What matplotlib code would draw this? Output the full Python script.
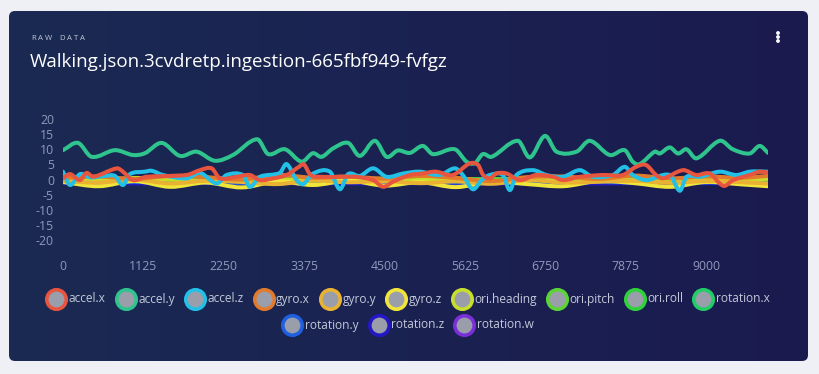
import numpy as np
import matplotlib
matplotlib.use("Agg")
import matplotlib.pyplot as plt
from matplotlib.patches import FancyBboxPatch, PathPatch
from matplotlib.path import Path

plt.rcParams['font.family'] = ['Open Sans', 'DejaVu Sans']

# ---- data ----
accel_x_t = [0, 98, 238, 330, 420, 755, 839, 979, 1166, 1731, 1917, 2080, 2196, 2430,
             2616, 2756, 2942, 3130, 3302, 3372, 3464, 3600, 3920, 4110, 4341, 4482,
             4620, 4855, 5036, 5218, 5456, 5690, 5810, 5880, 5974, 6066, 6206, 6393,
             6622, 6860, 7000, 7233, 7555, 7835, 8020, 8160, 8300, 8400, 8678, 8860,
             9052, 9192, 9262, 9378, 9611, 9751, 9867]
accel_x = [0.4, 1.8, -0.2, 2.2, 0.9, 3.7, 2.6, -0.2, 0.9, 1.5, 3.1, 3.7, 0.4, 0.9,
           1.5, -0.2, 0.4, 1.5, 4.2, 5.0, 1.5, 0.9, 0.9, 0.9, -0.2, -2.4,
           -0.7, 1.5, 2.0, 2.6, 1.5, 5.3, 4.8, 1.5, 0.4, 2.0, 2.0, -0.2,
           1.5, 0.9, -0.2, 0.9, 1.5, 1.5, 4.2, 4.8, 1.5, 0.4, 3.1, 1.5,
           2.0, -1.3, -2.1, -0.2, 1.5, 2.6, 2.3]

accel_y_t = [0, 210, 401, 727, 979, 1147, 1381, 1637, 1870, 2126, 2378, 2718, 2872,
             3106, 3339, 3497, 3619, 3781, 3991, 4155, 4365, 4529, 4687, 4855, 5036,
             5176, 5484, 5648, 5764, 5876, 5998, 6366, 6534, 6744, 6907, 7187, 7373,
             7653, 7862, 7974, 8072, 8282, 8352, 8492, 8608, 8726, 8866, 9192, 9373,
             9611, 9751, 9867]
accel_y = [9.7, 12.1, 7.5, 9.7, 8.1, 8.7, 12.1, 7.8, 9.2, 6.2, 8.1, 13.3, 8.4,
           10.0, 5.9, 8.7, 7.5, 10.3, 12.1, 7.8, 12.8, 7.5, 9.6, 8.8, 11.1,
           8.4, 10.0, 5.9, 5.4, 8.4, 7.5, 12.8, 7.3, 14.4, 9.2, 9.2, 12.8,
           8.1, 9.7, 5.9, 5.1, 9.2, 8.6, 10.6, 8.6, 10.0, 7.0, 12.8, 10.0,
           8.6, 11.1, 8.8]

accel_z_t = [0, 98, 238, 378, 588, 727, 839, 937, 1147, 1241, 1399, 1731, 1917, 2150,
             2290, 2518, 2616, 2756, 3036, 3130, 3270, 3362, 3502, 3735, 3875, 3991,
             4155, 4341, 4529, 4761, 4994, 5274, 5484, 5596, 5736, 5858, 5974, 6156,
             6254, 6347, 6575, 6767, 6995, 7233, 7415, 7695, 7862, 7974, 8166, 8492,
             8632, 8726, 8912, 9192, 9425, 9611, 9867]
accel_z = [2.6, -1.8, 1.8, 0.7, 1.2, 1.2, -1.8, 1.8, 2.6, 2.9, 1.5, 0.4, 2.2, -1.3,
           1.5, 1.5, -2.4, 0.9, 2.2, 5.1, -0.2, -1.5, 2.0, 2.6, -3.2, 1.8,
           1.2, 3.7, 0.9, 2.0, 2.6, 1.5, 3.7, 1.5, -3.2, -0.2, 1.5, 1.5,
           -3.5, 1.5, 3.1, 1.5, 0.9, 3.1, 0.9, 1.5, 4.2, 1.5, -0.2, 1.5,
           -3.7, 0.9, 0.9, 2.6, 1.5, 2.6, 2.6]

minor_t = [0, 500, 1000, 1500, 2000, 2500, 3000, 3500, 4000, 4500, 5000, 5500, 6000,
           6500, 7000, 7500, 8000, 8500, 9000, 9500, 9867]
gyro_x = [0.5, 1.0, 0.2, 1.2, 0.8, 0.0, 1.5, 0.6, 1.0, 0.3, 1.2, 0.5, -0.5,
          0.8, 1.0, 0.2, 1.3, 0.4, 1.0, 0.6, 1.2]
gyro_y = [-0.5, -1.0, 0.0, -1.3, -0.4, -0.8, -1.5, -0.3, -0.9, -0.5, -1.2, -0.6, -1.4,
          -0.2, -1.0, -0.7, -0.4, -1.1, -0.5, -0.9, -1.3]
gyro_z = [-0.8, -2.2, -0.5, -2.4, -1.0, -2.6, -0.6, -1.8, -0.4, -2.0, -0.9, -2.5, -0.7,
          -1.5, -2.2, -0.5, -1.2, -2.4, -0.8, -1.6, -2.2]
ori_heading = [0.2, -0.3, 0.5, 0.0, -0.5, 0.3, 0.1, -0.4, 0.6, 0.0, -0.2, 0.4, -0.6,
               0.2, 0.0, 0.5, -0.3, 0.1, 0.4, -0.2, 0.3]
ori_pitch = [0.1, 0.3, -0.2, 0.2, 0.0, -0.3, 0.2, 0.1, -0.1, 0.3, 0.0, -0.2, 0.2,
             0.1, -0.3, 0.0, 0.2, -0.1, 0.1, 0.3, 0.0]
ori_roll = [-0.2, 0.0, 0.2, -0.1, 0.3, 0.0, -0.2, 0.2, 0.0, -0.3, 0.1, 0.2, 0.0,
            -0.2, 0.1, 0.3, -0.1, 0.0, 0.2, -0.2, 0.1]
rotation_x = [0.0, -0.1, 0.1, 0.0, -0.2, 0.1, 0.0, 0.2, -0.1, 0.0, 0.1, -0.1, 0.0,
              0.2, -0.1, 0.0, 0.1, 0.0, -0.1, 0.1, 0.0]
rotation_y = [-0.9, -1.0, -0.8, -1.0, -0.9, -1.1, -0.9, -1.0, -0.8, -1.0, -0.9, -1.0, -1.1,
              -0.9, -1.0, -0.8, -1.0, -0.9, -1.0, -0.9, -1.0]
rotation_z = [-1.2, -1.2, -1.3, -1.2, -1.2, -1.3, -1.2, -1.2, -1.3, -1.2, -1.2, -1.2, -1.3,
              -1.2, -1.2, -1.3, -1.2, -1.2, -1.2, -1.3, -1.2]
rotation_w = [-1.0, -1.1, -1.0, -1.0, -1.1, -1.0, -1.0, -1.1, -1.0, -1.0, -1.1, -1.0, -1.0,
              -1.1, -1.0, -1.0, -1.1, -1.0, -1.0, -1.1, -1.0]

series_names = ["accel.x", "accel.y", "accel.z", "gyro.x", "gyro.y", "gyro.z",
                "ori.heading", "ori.pitch", "ori.roll", "rotation.x",
                "rotation.y", "rotation.z", "rotation.w"]
series_colors = ["#e8553e", "#2fc48d", "#22c0e6", "#e27a2c", "#e9b232", "#f2e53a",
                 "#c8de2c", "#5cd436", "#2fd23a", "#22cc66",
                 "#1f5fe0", "#2417c4", "#7a2fd8"]
series_data = [(accel_x_t, accel_x), (accel_y_t, accel_y), (accel_z_t, accel_z),
               (minor_t, gyro_x), (minor_t, gyro_y), (minor_t, gyro_z),
               (minor_t, ori_heading), (minor_t, ori_pitch), (minor_t, ori_roll),
               (minor_t, rotation_x), (minor_t, rotation_y), (minor_t, rotation_z),
               (minor_t, rotation_w)]

x_ticks = [0, 1125, 2250, 3375, 4500, 5625, 6750, 7875, 9000]
y_ticks = [20, 15, 10, 5, 0, -5, -10, -15, -20]


def smooth_path(xs, ys):
    """cubic bezier path through the points (like the smoothed web chart lines)"""
    xs = np.asarray(xs, float)
    ys = np.asarray(ys, float)
    n = len(xs)
    m = np.zeros(n)
    m[1:-1] = (ys[2:] - ys[:-2]) / (xs[2:] - xs[:-2])
    m[0] = (ys[1] - ys[0]) / (xs[1] - xs[0])
    m[-1] = (ys[-1] - ys[-2]) / (xs[-1] - xs[-2])
    verts = [(xs[0], ys[0])]
    codes = [Path.MOVETO]
    for i in range(n - 1):
        dx = xs[i + 1] - xs[i]
        verts += [(xs[i] + dx / 3, ys[i] + m[i] * dx / 3),
                  (xs[i + 1] - dx / 3, ys[i + 1] - m[i + 1] * dx / 3),
                  (xs[i + 1], ys[i + 1])]
        codes += [Path.CURVE4] * 3
    return Path(verts, codes)


W, H = 819, 374
fig = plt.figure(figsize=(W / 100, H / 100), dpi=100)
fig.patch.set_facecolor("#eef0f6")

# background / card, in pixel coords
bg = fig.add_axes([0, 0, 1, 1], zorder=0)
bg.set_xlim(0, W)
bg.set_ylim(H, 0)
bg.axis("off")
card = FancyBboxPatch((9, 11), 799, 350, boxstyle="round,pad=0,rounding_size=6",
                      facecolor="none", edgecolor="none", transform=bg.transData)
bg.add_patch(card)
grad = np.linspace(0, 1, 256).reshape(1, -1)
cmap = matplotlib.colors.LinearSegmentedColormap.from_list("card", ["#1a2a53", "#1a1a4f"])
im = bg.imshow(grad, cmap=cmap, extent=(9, 808, 361, 11), aspect="auto", zorder=1)
im.set_clip_path(card)

fig.canvas.draw()
renderer = fig.canvas.get_renderer()

# small letter-spaced header
hx = 31.5
for ch in "RAW DATA":
    t = bg.text(hx, 39.5, ch, color="#c3c9d8", fontsize=5.6, va="baseline", ha="left",
                zorder=3, fontweight="medium")
    hx += t.get_window_extent(renderer).width + 2.0
    if ch == " ":
        hx += 1.5
bg.text(30, 67, "Walking.json.3cvdretp.ingestion-665fbf949-fvfgz", color="white",
        fontsize=13.5, va="baseline", ha="left", zorder=3)
for dy in (-4, 0, 4):
    bg.add_patch(plt.Circle((778, 37 + dy), 1.2, color="white", zorder=3))

# legend, two centred rows
rows = [series_names[:10], series_names[10:]]
row_y = [299, 325]
k = 0
for names, yy in zip(rows, row_y):
    texts = []
    widths = []
    for nm in names:
        t = bg.text(0, yy, nm, color="#c3c9d8", fontsize=8.6, va="center", ha="left", zorder=3)
        texts.append(t)
        widths.append(t.get_window_extent(renderer).width)
    item_w = [20 + 2.5 + w + 10 for w in widths]
    total = sum(item_w) - 10
    x0 = 408 - total / 2
    for t, w, iw in zip(texts, widths, item_w):
        bg.plot([x0 + 10], [yy], marker="o", markersize=14, markerfacecolor="#9a9eab",
                markeredgecolor=series_colors[k], markeredgewidth=2.6, zorder=3)
        t.set_x(x0 + 22.5)
        x0 += iw
        k += 1

# chart area
ax = fig.add_axes([63 / W, 1 - 246.2 / H, 705 / W, 133.3 / H], zorder=2)
ax.patch.set_alpha(0)
for idx in range(len(series_names) - 1, -1, -1):
    tt, vv = series_data[idx]
    ax.add_patch(PathPatch(smooth_path(tt, vv), facecolor="none",
                           edgecolor=series_colors[idx], linewidth=2.9,
                           joinstyle="round", capstyle="round"))
ax.set_xlim(0, 9867)
ax.set_ylim(-22, 22)
ax.set_xticks(x_ticks)
ax.set_xticklabels([str(v) for v in x_ticks])
ax.set_yticks(y_ticks)
ax.set_yticklabels([str(v) for v in y_ticks])
ax.tick_params(length=0, colors="#8f9aba", labelsize=8.8)
ax.tick_params(axis="x", pad=10)
ax.tick_params(axis="y", pad=6.5)
for s in ax.spines.values():
    s.set_visible(False)

fig.savefig("out.png", dpi=100, facecolor=fig.get_facecolor())
